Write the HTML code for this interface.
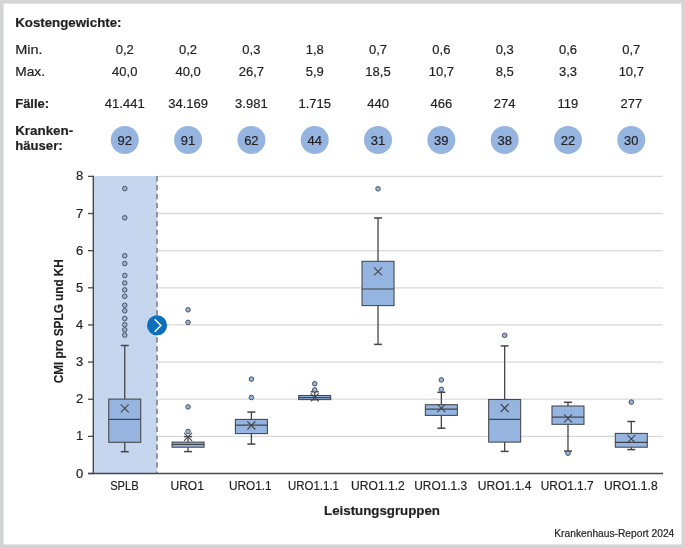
<!DOCTYPE html>
<html><head><meta charset="utf-8"><style>
html,body{margin:0;padding:0;background:#d3d4d6;}
body{width:685px;height:548px;position:relative;overflow:hidden;font-family:"Liberation Sans",sans-serif;}
#f{position:absolute;left:3px;top:3px;width:679px;height:542px;background:#e2e3e5;}
#w{position:absolute;left:4px;top:4px;width:677px;height:540px;background:#fff;}
svg{position:absolute;left:0;top:0;will-change:transform;}
svg text{font-family:"Liberation Sans",sans-serif;stroke:#231f20;stroke-width:0.2px;}
</style></head><body><div id="f"></div><div id="w"></div>
<svg width="685" height="548" viewBox="0 0 685 548">
<rect x="94" y="176" width="63" height="297.5" fill="#c7d6ef"/>
<line x1="157.5" y1="436.36" x2="663" y2="436.36" stroke="#d8d9db" stroke-width="1.3"/>
<line x1="157.5" y1="399.22" x2="663" y2="399.22" stroke="#d8d9db" stroke-width="1.3"/>
<line x1="157.5" y1="362.08" x2="663" y2="362.08" stroke="#d8d9db" stroke-width="1.3"/>
<line x1="157.5" y1="324.94" x2="663" y2="324.94" stroke="#d8d9db" stroke-width="1.3"/>
<line x1="157.5" y1="287.80" x2="663" y2="287.80" stroke="#d8d9db" stroke-width="1.3"/>
<line x1="157.5" y1="250.66" x2="663" y2="250.66" stroke="#d8d9db" stroke-width="1.3"/>
<line x1="157.5" y1="213.52" x2="663" y2="213.52" stroke="#d8d9db" stroke-width="1.3"/>
<line x1="157.5" y1="176.38" x2="663" y2="176.38" stroke="#d8d9db" stroke-width="1.3"/>
<line x1="157" y1="176.1" x2="157" y2="473" stroke="#85878e" stroke-width="1.7" stroke-dasharray="5.3 3.65"/>
<line x1="93.3" y1="175.8" x2="93.3" y2="474.2" stroke="#48484c" stroke-width="1.4"/>
<line x1="88" y1="473.6" x2="663" y2="473.6" stroke="#48484c" stroke-width="1.5"/>
<line x1="88" y1="473.50" x2="93.6" y2="473.50" stroke="#48484c" stroke-width="1.3"/>
<text x="83.3" y="477.60" text-anchor="end" font-size="13" fill="#231f20">0</text>
<line x1="88" y1="436.36" x2="93.6" y2="436.36" stroke="#48484c" stroke-width="1.3"/>
<text x="83.3" y="440.46" text-anchor="end" font-size="13" fill="#231f20">1</text>
<line x1="88" y1="399.22" x2="93.6" y2="399.22" stroke="#48484c" stroke-width="1.3"/>
<text x="83.3" y="403.32" text-anchor="end" font-size="13" fill="#231f20">2</text>
<line x1="88" y1="362.08" x2="93.6" y2="362.08" stroke="#48484c" stroke-width="1.3"/>
<text x="83.3" y="366.18" text-anchor="end" font-size="13" fill="#231f20">3</text>
<line x1="88" y1="324.94" x2="93.6" y2="324.94" stroke="#48484c" stroke-width="1.3"/>
<text x="83.3" y="329.04" text-anchor="end" font-size="13" fill="#231f20">4</text>
<line x1="88" y1="287.80" x2="93.6" y2="287.80" stroke="#48484c" stroke-width="1.3"/>
<text x="83.3" y="291.90" text-anchor="end" font-size="13" fill="#231f20">5</text>
<line x1="88" y1="250.66" x2="93.6" y2="250.66" stroke="#48484c" stroke-width="1.3"/>
<text x="83.3" y="254.76" text-anchor="end" font-size="13" fill="#231f20">6</text>
<line x1="88" y1="213.52" x2="93.6" y2="213.52" stroke="#48484c" stroke-width="1.3"/>
<text x="83.3" y="217.62" text-anchor="end" font-size="13" fill="#231f20">7</text>
<line x1="88" y1="176.38" x2="93.6" y2="176.38" stroke="#48484c" stroke-width="1.3"/>
<text x="83.3" y="180.48" text-anchor="end" font-size="13" fill="#231f20">8</text>
<line x1="124.75" y1="345.5" x2="124.75" y2="399.1" stroke="#434549" stroke-width="1.3"/>
<line x1="124.75" y1="442.3" x2="124.75" y2="451.7" stroke="#434549" stroke-width="1.3"/>
<line x1="120.75" y1="345.5" x2="128.75" y2="345.5" stroke="#434549" stroke-width="1.5"/>
<line x1="120.75" y1="451.7" x2="128.75" y2="451.7" stroke="#434549" stroke-width="1.5"/>
<rect x="108.75" y="399.1" width="32" height="43.20" fill="#95b5e0" stroke="#434549" stroke-width="1.05"/>
<line x1="108.75" y1="419.3" x2="140.75" y2="419.3" stroke="#434549" stroke-width="1.2"/>
<path d="M120.75 404.30L128.75 412.30M128.75 404.30L120.75 412.30" stroke="#434549" stroke-width="1.1" fill="none"/>
<circle cx="124.75" cy="188.6" r="2.3" fill="#95b5e0" stroke="#434549" stroke-width="0.9"/>
<circle cx="124.75" cy="217.8" r="2.3" fill="#95b5e0" stroke="#434549" stroke-width="0.9"/>
<circle cx="124.75" cy="255.75" r="2.3" fill="#95b5e0" stroke="#434549" stroke-width="0.9"/>
<circle cx="124.75" cy="263.5" r="2.3" fill="#95b5e0" stroke="#434549" stroke-width="0.9"/>
<circle cx="124.75" cy="275.5" r="2.3" fill="#95b5e0" stroke="#434549" stroke-width="0.9"/>
<circle cx="124.75" cy="283" r="2.3" fill="#95b5e0" stroke="#434549" stroke-width="0.9"/>
<circle cx="124.75" cy="289.9" r="2.3" fill="#95b5e0" stroke="#434549" stroke-width="0.9"/>
<circle cx="124.75" cy="296.3" r="2.3" fill="#95b5e0" stroke="#434549" stroke-width="0.9"/>
<circle cx="124.75" cy="305.3" r="2.3" fill="#95b5e0" stroke="#434549" stroke-width="0.9"/>
<circle cx="124.75" cy="310.8" r="2.3" fill="#95b5e0" stroke="#434549" stroke-width="0.9"/>
<circle cx="124.75" cy="318.5" r="2.3" fill="#95b5e0" stroke="#434549" stroke-width="0.9"/>
<circle cx="124.75" cy="324.7" r="2.3" fill="#95b5e0" stroke="#434549" stroke-width="0.9"/>
<circle cx="124.75" cy="329.9" r="2.3" fill="#95b5e0" stroke="#434549" stroke-width="0.9"/>
<circle cx="124.75" cy="335.1" r="2.3" fill="#95b5e0" stroke="#434549" stroke-width="0.9"/>
<line x1="188.07" y1="436.6" x2="188.07" y2="442.1" stroke="#434549" stroke-width="1.3"/>
<line x1="188.07" y1="447.2" x2="188.07" y2="451.6" stroke="#434549" stroke-width="1.3"/>
<line x1="184.07" y1="436.6" x2="192.07" y2="436.6" stroke="#434549" stroke-width="1.5"/>
<line x1="184.07" y1="451.6" x2="192.07" y2="451.6" stroke="#434549" stroke-width="1.5"/>
<rect x="172.07" y="442.1" width="32" height="5.10" fill="#95b5e0" stroke="#434549" stroke-width="1.05"/>
<line x1="172.07" y1="444.4" x2="204.07" y2="444.4" stroke="#434549" stroke-width="1.2"/>
<path d="M184.07 432.90L192.07 440.90M192.07 432.90L184.07 440.90" stroke="#434549" stroke-width="1.1" fill="none"/>
<circle cx="188.07" cy="309.8" r="2.3" fill="#95b5e0" stroke="#434549" stroke-width="0.9"/>
<circle cx="188.07" cy="322.4" r="2.3" fill="#95b5e0" stroke="#434549" stroke-width="0.9"/>
<circle cx="188.07" cy="406.9" r="2.3" fill="#95b5e0" stroke="#434549" stroke-width="0.9"/>
<circle cx="188.07" cy="431.5" r="2.3" fill="#95b5e0" stroke="#434549" stroke-width="0.9"/>
<line x1="251.39" y1="412.1" x2="251.39" y2="419.4" stroke="#434549" stroke-width="1.3"/>
<line x1="251.39" y1="433.6" x2="251.39" y2="444.1" stroke="#434549" stroke-width="1.3"/>
<line x1="247.39" y1="412.1" x2="255.39" y2="412.1" stroke="#434549" stroke-width="1.5"/>
<line x1="247.39" y1="444.1" x2="255.39" y2="444.1" stroke="#434549" stroke-width="1.5"/>
<rect x="235.39" y="419.4" width="32" height="14.20" fill="#95b5e0" stroke="#434549" stroke-width="1.05"/>
<line x1="235.39" y1="425.2" x2="267.39" y2="425.2" stroke="#434549" stroke-width="1.2"/>
<path d="M247.39 421.50L255.39 429.50M255.39 421.50L247.39 429.50" stroke="#434549" stroke-width="1.1" fill="none"/>
<circle cx="251.39" cy="379.1" r="2.3" fill="#95b5e0" stroke="#434549" stroke-width="0.9"/>
<circle cx="251.39" cy="397.5" r="2.3" fill="#95b5e0" stroke="#434549" stroke-width="0.9"/>
<line x1="314.71" y1="391.75" x2="314.71" y2="395.5" stroke="#434549" stroke-width="1.3"/>
<line x1="314.71" y1="399.6" x2="314.71" y2="399.6" stroke="#434549" stroke-width="1.3"/>
<line x1="310.71" y1="391.75" x2="318.71" y2="391.75" stroke="#434549" stroke-width="1.5"/>
<line x1="310.71" y1="399.6" x2="318.71" y2="399.6" stroke="#434549" stroke-width="1.5"/>
<rect x="298.71" y="395.5" width="32" height="4.10" fill="#95b5e0" stroke="#434549" stroke-width="1.05"/>
<line x1="298.71" y1="397.6" x2="330.71" y2="397.6" stroke="#434549" stroke-width="1.2"/>
<path d="M310.71 393.40L318.71 401.40M318.71 393.40L310.71 401.40" stroke="#434549" stroke-width="1.1" fill="none"/>
<circle cx="314.71" cy="383.7" r="2.3" fill="#95b5e0" stroke="#434549" stroke-width="0.9"/>
<circle cx="314.71" cy="389.9" r="2.3" fill="#95b5e0" stroke="#434549" stroke-width="0.9"/>
<line x1="378.03" y1="218.0" x2="378.03" y2="261.3" stroke="#434549" stroke-width="1.3"/>
<line x1="378.03" y1="305.6" x2="378.03" y2="344.4" stroke="#434549" stroke-width="1.3"/>
<line x1="374.03" y1="218.0" x2="382.03" y2="218.0" stroke="#434549" stroke-width="1.5"/>
<line x1="374.03" y1="344.4" x2="382.03" y2="344.4" stroke="#434549" stroke-width="1.5"/>
<rect x="362.03" y="261.3" width="32" height="44.30" fill="#95b5e0" stroke="#434549" stroke-width="1.05"/>
<line x1="362.03" y1="289.0" x2="394.03" y2="289.0" stroke="#434549" stroke-width="1.2"/>
<path d="M374.03 267.30L382.03 275.30M382.03 267.30L374.03 275.30" stroke="#434549" stroke-width="1.1" fill="none"/>
<circle cx="378.03" cy="188.8" r="2.3" fill="#95b5e0" stroke="#434549" stroke-width="0.9"/>
<line x1="441.35" y1="392.3" x2="441.35" y2="404.7" stroke="#434549" stroke-width="1.3"/>
<line x1="441.35" y1="415.4" x2="441.35" y2="428.2" stroke="#434549" stroke-width="1.3"/>
<line x1="437.35" y1="392.3" x2="445.35" y2="392.3" stroke="#434549" stroke-width="1.5"/>
<line x1="437.35" y1="428.2" x2="445.35" y2="428.2" stroke="#434549" stroke-width="1.5"/>
<rect x="425.35" y="404.7" width="32" height="10.70" fill="#95b5e0" stroke="#434549" stroke-width="1.05"/>
<line x1="425.35" y1="409.2" x2="457.35" y2="409.2" stroke="#434549" stroke-width="1.2"/>
<path d="M437.35 404.20L445.35 412.20M445.35 404.20L437.35 412.20" stroke="#434549" stroke-width="1.1" fill="none"/>
<circle cx="441.35" cy="379.9" r="2.3" fill="#95b5e0" stroke="#434549" stroke-width="0.9"/>
<circle cx="441.35" cy="389.4" r="2.3" fill="#95b5e0" stroke="#434549" stroke-width="0.9"/>
<line x1="504.67" y1="345.9" x2="504.67" y2="399.5" stroke="#434549" stroke-width="1.3"/>
<line x1="504.67" y1="442.1" x2="504.67" y2="451.4" stroke="#434549" stroke-width="1.3"/>
<line x1="500.67" y1="345.9" x2="508.67" y2="345.9" stroke="#434549" stroke-width="1.5"/>
<line x1="500.67" y1="451.4" x2="508.67" y2="451.4" stroke="#434549" stroke-width="1.5"/>
<rect x="488.67" y="399.5" width="32" height="42.60" fill="#95b5e0" stroke="#434549" stroke-width="1.05"/>
<line x1="488.67" y1="419.4" x2="520.67" y2="419.4" stroke="#434549" stroke-width="1.2"/>
<path d="M500.67 404.00L508.67 412.00M508.67 404.00L500.67 412.00" stroke="#434549" stroke-width="1.1" fill="none"/>
<circle cx="504.67" cy="335.3" r="2.3" fill="#95b5e0" stroke="#434549" stroke-width="0.9"/>
<line x1="567.99" y1="402.3" x2="567.99" y2="406.0" stroke="#434549" stroke-width="1.3"/>
<line x1="567.99" y1="424.3" x2="567.99" y2="451.1" stroke="#434549" stroke-width="1.3"/>
<line x1="563.99" y1="402.3" x2="571.99" y2="402.3" stroke="#434549" stroke-width="1.5"/>
<line x1="563.99" y1="451.1" x2="571.99" y2="451.1" stroke="#434549" stroke-width="1.5"/>
<rect x="551.99" y="406.0" width="32" height="18.30" fill="#95b5e0" stroke="#434549" stroke-width="1.05"/>
<line x1="551.99" y1="417.2" x2="583.99" y2="417.2" stroke="#434549" stroke-width="1.2"/>
<path d="M563.99 414.40L571.99 422.40M571.99 414.40L563.99 422.40" stroke="#434549" stroke-width="1.1" fill="none"/>
<circle cx="567.99" cy="453.2" r="2.3" fill="#95b5e0" stroke="#434549" stroke-width="0.9"/>
<line x1="631.31" y1="421.5" x2="631.31" y2="433.4" stroke="#434549" stroke-width="1.3"/>
<line x1="631.31" y1="447.2" x2="631.31" y2="449.6" stroke="#434549" stroke-width="1.3"/>
<line x1="627.31" y1="421.5" x2="635.31" y2="421.5" stroke="#434549" stroke-width="1.5"/>
<line x1="627.31" y1="449.6" x2="635.31" y2="449.6" stroke="#434549" stroke-width="1.5"/>
<rect x="615.31" y="433.4" width="32" height="13.80" fill="#95b5e0" stroke="#434549" stroke-width="1.05"/>
<line x1="615.31" y1="442.4" x2="647.31" y2="442.4" stroke="#434549" stroke-width="1.2"/>
<path d="M627.31 434.80L635.31 442.80M635.31 434.80L627.31 442.80" stroke="#434549" stroke-width="1.1" fill="none"/>
<circle cx="631.31" cy="402.1" r="2.3" fill="#95b5e0" stroke="#434549" stroke-width="0.9"/>
<text x="124.40" y="489.8" text-anchor="middle" font-size="13" textLength="28.5" lengthAdjust="spacingAndGlyphs" fill="#231f20">SPLB</text>
<text x="187.20" y="489.8" text-anchor="middle" font-size="13" textLength="33.4" lengthAdjust="spacingAndGlyphs" fill="#231f20">URO1</text>
<text x="250.30" y="489.8" text-anchor="middle" font-size="13" textLength="42.6" lengthAdjust="spacingAndGlyphs" fill="#231f20">URO1.1</text>
<text x="313.50" y="489.8" text-anchor="middle" font-size="13" textLength="50.9" lengthAdjust="spacingAndGlyphs" fill="#231f20">URO1.1.1</text>
<text x="377.90" y="489.8" text-anchor="middle" font-size="13" textLength="53.7" lengthAdjust="spacingAndGlyphs" fill="#231f20">URO1.1.2</text>
<text x="440.70" y="489.8" text-anchor="middle" font-size="13" textLength="53.0" lengthAdjust="spacingAndGlyphs" fill="#231f20">URO1.1.3</text>
<text x="504.60" y="489.8" text-anchor="middle" font-size="13" textLength="53.6" lengthAdjust="spacingAndGlyphs" fill="#231f20">URO1.1.4</text>
<text x="567.20" y="489.8" text-anchor="middle" font-size="13" textLength="52.8" lengthAdjust="spacingAndGlyphs" fill="#231f20">URO1.1.7</text>
<text x="630.80" y="489.8" text-anchor="middle" font-size="13" textLength="53.7" lengthAdjust="spacingAndGlyphs" fill="#231f20">URO1.1.8</text>
<text x="382" y="515.2" text-anchor="middle" font-size="13" font-weight="bold" textLength="115.9" lengthAdjust="spacingAndGlyphs" fill="#231f20">Leistungsgruppen</text>
<text transform="translate(62.8 321.2) rotate(-90)" text-anchor="middle" font-size="13" font-weight="bold" textLength="124" lengthAdjust="spacingAndGlyphs" fill="#231f20">CMI pro SPLG und KH</text>
<text x="674.3" y="536.8" text-anchor="end" font-size="10.5" textLength="120" lengthAdjust="spacingAndGlyphs" fill="#231f20">Krankenhaus-Report 2024</text>
<text x="15.2" y="27" font-size="13" font-weight="bold" textLength="106.3" lengthAdjust="spacingAndGlyphs" fill="#231f20">Kostengewichte:</text>
<text x="15.2" y="53.5" font-size="13" textLength="27.4" lengthAdjust="spacingAndGlyphs" fill="#231f20">Min.</text>
<text x="15.2" y="75.8" font-size="13" textLength="29.8" lengthAdjust="spacingAndGlyphs" fill="#231f20">Max.</text>
<text x="15.2" y="107.6" font-size="13" font-weight="bold" textLength="34" lengthAdjust="spacingAndGlyphs" fill="#231f20">Fälle:</text>
<text x="15.2" y="135.4" font-size="13" font-weight="bold" textLength="58" lengthAdjust="spacingAndGlyphs" fill="#231f20">Kranken-</text>
<text x="15.2" y="150.1" font-size="13" font-weight="bold" textLength="47.5" lengthAdjust="spacingAndGlyphs" fill="#231f20">häuser:</text>
<text x="124.75" y="53.5" text-anchor="middle" font-size="13" fill="#231f20">0,2</text>
<text x="124.75" y="75.8" text-anchor="middle" font-size="13" fill="#231f20">40,0</text>
<text x="124.75" y="107.6" text-anchor="middle" font-size="13" fill="#231f20">41.441</text>
<circle cx="124.75" cy="140" r="14" fill="#95b5e0"/>
<text x="124.75" y="144.6" text-anchor="middle" font-size="13" fill="#231f20">92</text>
<text x="188.07" y="53.5" text-anchor="middle" font-size="13" fill="#231f20">0,2</text>
<text x="188.07" y="75.8" text-anchor="middle" font-size="13" fill="#231f20">40,0</text>
<text x="188.07" y="107.6" text-anchor="middle" font-size="13" fill="#231f20">34.169</text>
<circle cx="188.07" cy="140" r="14" fill="#95b5e0"/>
<text x="188.07" y="144.6" text-anchor="middle" font-size="13" fill="#231f20">91</text>
<text x="251.39" y="53.5" text-anchor="middle" font-size="13" fill="#231f20">0,3</text>
<text x="251.39" y="75.8" text-anchor="middle" font-size="13" fill="#231f20">26,7</text>
<text x="251.39" y="107.6" text-anchor="middle" font-size="13" fill="#231f20">3.981</text>
<circle cx="251.39" cy="140" r="14" fill="#95b5e0"/>
<text x="251.39" y="144.6" text-anchor="middle" font-size="13" fill="#231f20">62</text>
<text x="314.71" y="53.5" text-anchor="middle" font-size="13" fill="#231f20">1,8</text>
<text x="314.71" y="75.8" text-anchor="middle" font-size="13" fill="#231f20">5,9</text>
<text x="314.71" y="107.6" text-anchor="middle" font-size="13" fill="#231f20">1.715</text>
<circle cx="314.71" cy="140" r="14" fill="#95b5e0"/>
<text x="314.71" y="144.6" text-anchor="middle" font-size="13" fill="#231f20">44</text>
<text x="378.03" y="53.5" text-anchor="middle" font-size="13" fill="#231f20">0,7</text>
<text x="378.03" y="75.8" text-anchor="middle" font-size="13" fill="#231f20">18,5</text>
<text x="378.03" y="107.6" text-anchor="middle" font-size="13" fill="#231f20">440</text>
<circle cx="378.03" cy="140" r="14" fill="#95b5e0"/>
<text x="378.03" y="144.6" text-anchor="middle" font-size="13" fill="#231f20">31</text>
<text x="441.35" y="53.5" text-anchor="middle" font-size="13" fill="#231f20">0,6</text>
<text x="441.35" y="75.8" text-anchor="middle" font-size="13" fill="#231f20">10,7</text>
<text x="441.35" y="107.6" text-anchor="middle" font-size="13" fill="#231f20">466</text>
<circle cx="441.35" cy="140" r="14" fill="#95b5e0"/>
<text x="441.35" y="144.6" text-anchor="middle" font-size="13" fill="#231f20">39</text>
<text x="504.67" y="53.5" text-anchor="middle" font-size="13" fill="#231f20">0,3</text>
<text x="504.67" y="75.8" text-anchor="middle" font-size="13" fill="#231f20">8,5</text>
<text x="504.67" y="107.6" text-anchor="middle" font-size="13" fill="#231f20">274</text>
<circle cx="504.67" cy="140" r="14" fill="#95b5e0"/>
<text x="504.67" y="144.6" text-anchor="middle" font-size="13" fill="#231f20">38</text>
<text x="567.99" y="53.5" text-anchor="middle" font-size="13" fill="#231f20">0,6</text>
<text x="567.99" y="75.8" text-anchor="middle" font-size="13" fill="#231f20">3,3</text>
<text x="567.99" y="107.6" text-anchor="middle" font-size="13" fill="#231f20">119</text>
<circle cx="567.99" cy="140" r="14" fill="#95b5e0"/>
<text x="567.99" y="144.6" text-anchor="middle" font-size="13" fill="#231f20">22</text>
<text x="631.31" y="53.5" text-anchor="middle" font-size="13" fill="#231f20">0,7</text>
<text x="631.31" y="75.8" text-anchor="middle" font-size="13" fill="#231f20">10,7</text>
<text x="631.31" y="107.6" text-anchor="middle" font-size="13" fill="#231f20">277</text>
<circle cx="631.31" cy="140" r="14" fill="#95b5e0"/>
<text x="631.31" y="144.6" text-anchor="middle" font-size="13" fill="#231f20">30</text>
<circle cx="157.05" cy="325.3" r="10.05" fill="#0b6fbc"/>
<path d="M154.7 319.3L160.9 325.5L154.7 331.7" stroke="#fff" stroke-width="1.4" fill="none"/>
</svg></body></html>
